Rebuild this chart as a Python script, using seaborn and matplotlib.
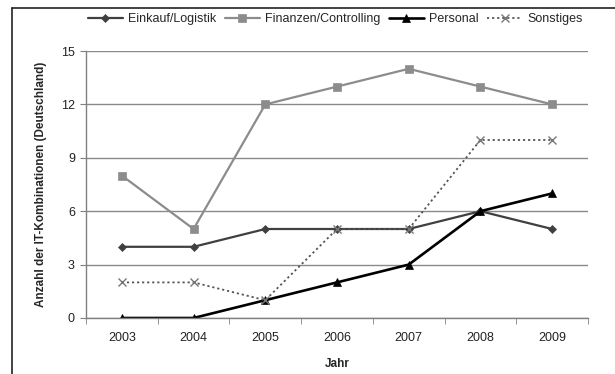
import numpy as np
import pandas as pd
import matplotlib as mpl
from matplotlib import pyplot as plt
from matplotlib.lines import Line2D
import seaborn as sns

years = ["2003", "2004", "2005", "2006", "2007", "2008", "2009"]
einkauf = [4, 4, 5, 5, 5, 6, 5]
finanzen = [8, 5, 12, 13, 14, 13, 12]
personal = [0, 0, 1, 2, 3, 6, 7]
sonstiges = [2, 2, 1, 5, 5, 10, 10]

series = {
    "Einkauf/Logistik": einkauf,
    "Finanzen/Controlling": finanzen,
    "Personal": personal,
    "Sonstiges": sonstiges,
}
df = pd.DataFrame(
    [(i, name, v) for name, vals in series.items() for i, v in enumerate(vals)],
    columns=["pos", "serie", "wert"],
)

# style per series: color, marker, markersize, linewidth, dotted
styles = {
    "Einkauf/Logistik": ("#404040", "D", 4, 1.6, False),
    "Finanzen/Controlling": ("#8c8c8c", "s", 6, 1.6, False),
    "Personal": ("#000000", "^", 6, 1.9, False),
    "Sonstiges": ("#555555", "x", 6, 1.3, True),
}

sns.set_style("white")
plt.rcParams["font.family"] = ["Liberation Sans", "DejaVu Sans"]

fig = plt.figure(figsize=(6.15, 3.74), dpi=100)
ax = fig.add_axes([86 / 615, 1 - 318 / 374, (588 - 86) / 615, (318 - 51) / 374])

for name in series:
    color, marker, ms, lw, dotted = styles[name]
    sub = df[df["serie"] == name]
    sns.lineplot(data=sub, x="pos", y="wert", ax=ax, color=color, marker=marker,
                 markersize=ms, linewidth=lw, label=name,
                 markeredgecolor="#777777" if marker == "x" else color,
                 markeredgewidth=1.0 if marker == "x" else 0.5)
    if dotted:
        ax.lines[-1].set_dashes([1.2, 1.6])

ax.set_xlim(-0.5, 6.5)
ax.set_ylim(0, 15)
ax.set_yticks([0, 3, 6, 9, 12, 15])
ax.set_xticks(range(len(years)))
ax.set_xticklabels(years)
ax.set_xticks(np.arange(-0.5, 7, 1), minor=True)
ax.tick_params(axis="x", which="major", length=0, pad=10, labelsize=9, labelcolor="#222222")
ax.tick_params(axis="x", which="minor", length=4, direction="out", color="#808080", bottom=True)
ax.tick_params(axis="y", length=4, direction="out", color="#808080", left=True, pad=4,
               labelsize=9, labelcolor="#222222")

ax.yaxis.grid(True, color="#8a8a8a", linewidth=1.0)
ax.set_axisbelow(True)
for side in ["top", "right"]:
    ax.spines[side].set_visible(False)
for side in ["left", "bottom"]:
    ax.spines[side].set_color("#808080")
    ax.spines[side].set_linewidth(1.0)

ax.set_xlabel("Jahr", fontsize=8.5, fontweight="bold", labelpad=10)
ax.set_ylabel("Anzahl der IT-Kombinationen (Deutschland)", fontsize=8.5, fontweight="bold", labelpad=10)

ax.legend(loc="center", bbox_to_anchor=(335 / 615, (374 - 19) / 374), bbox_transform=fig.transFigure,
          ncol=4, frameon=False, fontsize=9, handlelength=2.8, columnspacing=0.7,
          handletextpad=0.4)

# outer border (cropped at right and bottom)
fig.add_artist(Line2D([12 / 615, 1.0], [1 - 8 / 374, 1 - 8 / 374], color="#222222", linewidth=1.2))
fig.add_artist(Line2D([12 / 615, 12 / 615], [0.0, 1 - 8 / 374], color="#222222", linewidth=1.2))

fig.savefig("out.png", dpi=100)
